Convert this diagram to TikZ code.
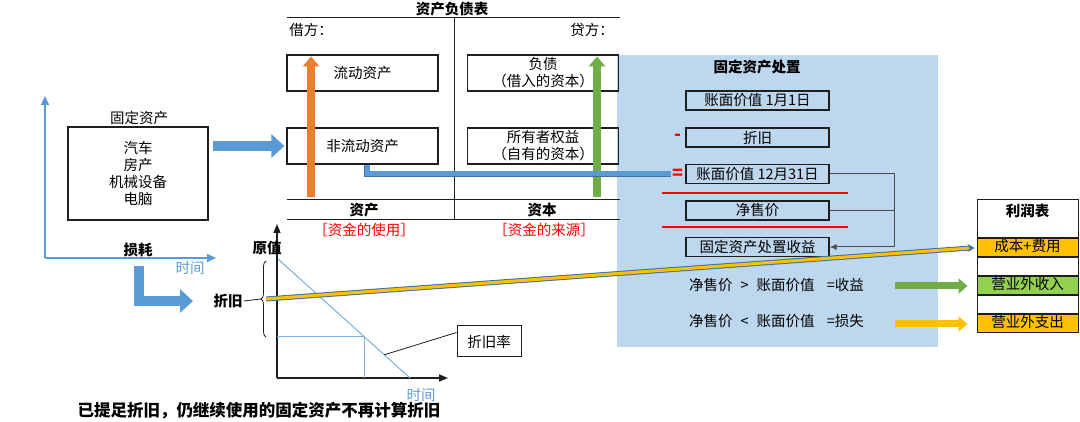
\documentclass[tikz,border=0pt]{standalone}
\usepackage{fontspec}
\setmainfont{Noto Sans CJK SC}
\usepackage{xcolor}
\usetikzlibrary{arrows.meta,calc,positioning,decorations.pathreplacing}
\definecolor{figline}{RGB}{30,30,30}
\definecolor{figblue}{RGB}{91,155,213}
\definecolor{figedge}{RGB}{65,113,156}
\definecolor{figpanel}{RGB}{189,215,238}
\definecolor{figorange}{RGB}{237,125,49}
\definecolor{figgreen}{RGB}{112,173,71}
\definecolor{figgold}{RGB}{255,192,0}
\definecolor{figlime}{RGB}{146,208,80}
\definecolor{figred}{RGB}{255,0,0}
\tikzset{
  txt/.style   ={font=\fontsize{14.5}{18}\selectfont, inner sep=1pt, align=center},
  tit/.style   ={font=\fontsize{14.5}{18}\selectfont\bfseries, inner sep=1pt},
  bluetxt/.style={txt, text=figblue},
  redtxt/.style={txt, text=figred},
  redsign/.style={font=\fontsize{18}{18}\selectfont\bfseries, text=figred, inner sep=1pt},
  bsbox/.style ={draw=figline, line width=1.2pt, minimum width=151, minimum height=36,
                 inner sep=0pt, align=center, font=\fontsize{14.5}{17}\selectfont},
  pbox/.style  ={bsbox, minimum width=143, minimum height=19},
  cell/.style  ={draw=figline, line width=1pt, minimum width=101, minimum height=18,
                 inner sep=0pt, text height=11pt, text depth=3pt,
                 font=\fontsize{14.5}{16}\selectfont},
  rule/.style  ={draw=figline, line width=1pt},
  redrule/.style={draw=figred, line width=2.5pt},
  conn/.style  ={draw=figline!80, line width=1pt},
  blueax/.style={draw=figblue, line width=2pt, -{Triangle[length=9pt,width=8pt]}},
  blkax/.style ={draw=figline, line width=1.5pt, -{Triangle[length=9pt,width=7pt]}},
  thinblue/.style={draw=figblue!80, line width=1pt},
  fatblue/.style={draw=figblue, line width=10pt, line join=miter,
                 -{Triangle[length=13pt,width=23pt]}},
  uparr/.style ={line width=8pt, -{Triangle[length=10pt,width=16pt]}},
  fatarr/.style={line width=7pt, -{Triangle[length=9pt,width=15pt]}},
  bluebar/.style={draw=figedge, line width=0.7pt, double=figblue, double distance=5pt},
}

\begin{document}
\begin{tikzpicture}[x=1pt,y=-1pt]
  \useasboundingbox (0,0) rectangle (1080,422);
  % disposal panel
  \fill[figpanel] (617,55) rectangle (938,347);
  % fixed assets, left
  \coordinate (ax0) at (45,258);
  \coordinate (axy) at (45,96);
  \coordinate (axx) at (216,258);
  \draw[blueax] (ax0) -- (axy);
  \draw[blueax] (ax0) -- (axx);
  \node[txt] (gdzc) at (139,118) {固定资产};
  \node[bsbox, minimum width=140, minimum height=93] (gd) at (138,173.5)
    {汽车\\房产\\机械设备\\电脑};
  \node[tit] (sh) at (138,250) {损耗};
  \node[bluetxt] (sj1) at (190,268) {时间};
  % balance sheet
  \node[tit] (bstitle) at (452,9) {资产负债表};
  \draw[rule] (287,18) -- (620,18);
  \draw[rule] (454,18) -- (454,220);
  \draw[rule] (287,200) -- (620,200);
  \draw[rule] (287,220) -- (620,220);
  \node[txt] (jie) at (311,30) {借方：};
  \node[txt] (dai) at (592,30) {贷方：};
  \node[bsbox] (ld) at (362.5,73) {流动资产};
  \node[bsbox] (fz) at (543,73) {负债\\（借入的资本）};
  \node[bsbox] (fld) at (362.5,146) {非流动资产};
  \node[bsbox] (qy) at (543,146) {所有者权益\\（自有的资本）};
  \node[tit] (zc) at (364,210) {资产};
  \node[tit] (zb) at (542,210) {资本};
  \node[redtxt] (use) at (364,230) {［资金的使用］};
  \node[redtxt] (src) at (544,230) {［资金的来源］};
  \coordinate (orbot) at (311,197);
  \coordinate (grbot) at (597,197);
  \draw[uparr, draw=figorange] (orbot) -- ($(orbot |- ld.north)+(0,2)$);
  \draw[uparr, draw=figgreen] (grbot) -- ($(grbot |- fz.north)+(0,2)$);
  \draw[fatblue] ($(gd.east |- fld.west)+(4,0)$) -- ($(fld.west)+(-2,0)$);
  % disposal of fixed assets
  \node[tit] (czt) at (757,67) {固定资产处置};
  \node[pbox] (bv1) at (757.5,100.5) {账面价值\ 1月1日};
  \node[pbox] (dep) at (757.5,137.5) {折旧};
  \node[pbox] (bv2) at (757.5,174) {账面价值\ 12月31日};
  \node[pbox] (net) at (757.5,210.5) {净售价};
  \node[pbox] (gain) at (757.5,247) {固定资产处置收益};
  \node[redsign] (minus) at (678,137) {-};
  \node[redsign] (eq) at (678,174) {=};
  \draw[redrule] (662,193) -- (848,193);
  \draw[redrule] (662,227) -- (848,227);
  \coordinate (bus) at (894,0);
  \draw[conn, -{Latex[length=7pt,width=6pt]}] (bv2.east) -- (bv2.east -| bus) |- (gain.east);
  \draw[conn] (net.east) -- (net.east -| bus);
  \draw[bluebar] ($(fld.south)+(4.5,0)$) |- (eq.west);
  \node[txt, anchor=west] (gt) at (688,285)
    {净售价\hspace{8pt}>\hspace{8pt}账面价值\hspace{12pt}=收益};
  \node[txt, anchor=west] (lt) at (688,321)
    {净售价\hspace{8pt}<\hspace{8pt}账面价值\hspace{12pt}=损失};
  % income statement
  \node[cell, minimum height=38] (lrb) at (1027.5,219) {};
  \node[tit] (lrbt) at (1027.5,211) {利润表};
  \node[cell, fill=figgold, below=0pt of lrb] (cbfy) {成本+费用};
  \node[cell, below=0pt of cbfy] (bl1) {};
  \node[cell, fill=figlime, below=0pt of bl1] (srin) {营业外收入};
  \node[cell, below=0pt of srin] (bl2) {};
  \node[cell, fill=figgold, below=0pt of bl2] (zhch) {营业外支出};
  \coordinate (ga) at (895,0);
  \draw[fatarr, draw=figgreen] (ga |- srin.west) -- ($(srin.west)+(-9,0)$);
  \draw[fatarr, draw=figgold] (ga |- zhch.west) -- ($(zhch.west)+(-9,0)$);
  % depreciation chart
  \coordinate (co) at (277,378);
  \coordinate (cy) at (277,224);
  \coordinate (cx) at (448,378);
  \draw[blkax] (co) -- (cy);
  \draw[blkax] (co) -- (cx);
  \node[tit] (yv) at (267,248) {原值};
  \node[bluetxt] (sj2) at (421,395) {时间};
  \coordinate (dtop) at (278,259);
  \coordinate (dbot) at (410,378);
  \coordinate (dmid) at ($(dtop)!0.655!(dbot)$);
  \draw[thinblue] (dtop) -- (dbot);
  \draw[thinblue] (dmid -| co) -- (dmid) -- (dmid |- co);
  \coordinate (bb) at (266,337);
  \coordinate (bt) at (266,261);
  \coordinate (ztip) at (261,299);
  \draw[draw=figline, line width=0.8pt, decorate, decoration={brace, amplitude=5pt}] (bb) -- (bt);
  \node[tit] (zjlab) at (228,301) {折旧};
  \draw[draw=figline, line width=0.8pt] (zjlab.east) -- (ztip);
  \node[bsbox, minimum width=64, minimum height=31, line width=1pt] (zjl) at (489,341.5) {折旧率};
  \draw[draw=figline, line width=0.8pt] ($(zjl.west)+(0,-9)$) -- ($(dtop)!0.805!(dbot)$);
  \coordinate (gstart) at (266,299);
  \draw[draw=figedge, line width=5pt] (gstart) -- ($(cbfy.west)+(-6,0)$);
  \draw[draw=figgold, line width=3pt] (gstart) -- ($(cbfy.west)+(-6,0)$);
  \draw[draw=figedge, line width=1pt, -{Stealth[length=7pt,width=8pt]}] ($(cbfy.west)+(-8,0)$) -- ($(cbfy.west)+(-2,0)$);
  % blue L arrow
  \coordinate (lbeg) at (139,266);
  \coordinate (lend) at (193,301);
  \draw[fatblue] (lbeg) |- (lend);
  \node[tit, font=\fontsize{16.5}{18}\selectfont\bfseries] (note) at (259,411)
    {已提足折旧，仍继续使用的固定资产不再计算折旧};
\end{tikzpicture}
\end{document}
